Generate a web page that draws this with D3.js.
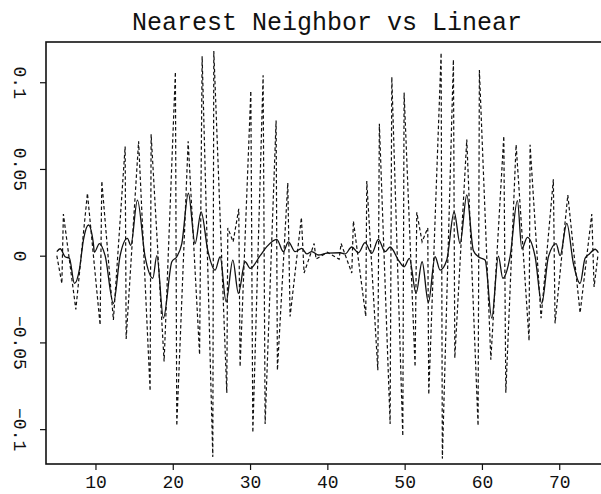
<!DOCTYPE html>
<html>
<head>
<meta charset="utf-8">
<script src="https://cdn.jsdelivr.net/npm/d3@7"></script>
<style>
  body { margin: 0; background: #fff; }
  text { font-family: "Liberation Mono", "DejaVu Sans Mono", monospace; fill: #111; }
</style>
</head>
<body>
<script>
// nearest neighbor (dashed) - turning points
let nnX = [5.00, 5.65, 5.85, 7.46, 8.96, 10.60, 10.82, 12.32, 13.84, 13.97, 15.58, 17.07, 17.20, 18.88, 20.34, 20.52,
           21.99, 23.47, 23.80, 25.18, 25.31, 26.99, 27.12, 27.81, 28.54, 28.71, 30.10, 30.36, 31.69, 31.95, 33.37, 33.54,
           34.88, 35.18, 36.64, 36.99, 38.29, 38.54, 40.00,
           41.52, 41.78, 43.16, 43.37, 44.97, 45.10, 46.53, 46.73, 48.12, 48.34, 49.76, 49.93, 51.35, 51.57, 52.26, 52.99,
           53.12, 54.72, 54.88, 56.31, 56.49, 58.04, 59.50, 59.67, 61.15, 62.83, 63.09, 64.42, 66.10, 66.23, 67.65, 69.24,
           69.46, 71.11, 72.70, 74.21, 74.51, 75.00]
let nnY = [0.000, -0.016, 0.024, -0.031, 0.036, -0.040, 0.043, -0.037, 0.063, -0.048, 0.066, -0.078, 0.070, -0.061, 0.106, -0.098,
           0.066, -0.057, 0.115, -0.116, 0.118, -0.079, 0.016, 0.008, 0.027, -0.064, 0.095, -0.102, 0.104, -0.097, 0.078, -0.066,
           0.042, -0.035, 0.022, -0.010, 0.007, -0.002, 0.002,
           -0.002, 0.007, -0.010, 0.020, -0.035, 0.043, -0.066, 0.076, -0.097, 0.103, -0.104, 0.094, -0.064, 0.025, 0.008, 0.016,
           -0.080, 0.117, -0.117, 0.113, -0.059, 0.067, -0.098, 0.107, -0.060, 0.069, -0.079, 0.064, -0.049, 0.064, -0.036, 0.044,
           -0.039, 0.035, -0.033, 0.024, -0.018, 0.000]

// linear (solid)
let linX = [5.00, 5.43, 6.07, 6.63, 7.28, 7.92, 8.44, 9.09, 9.73, 9.86, 10.51, 11.25, 12.32, 13.19, 14.13, 14.57, 15.43,
            16.42, 17.42, 17.94, 18.79, 19.88, 20.52, 21.17, 22.02, 22.89, 23.67, 24.53, 25.48, 26.13, 26.90, 27.77, 28.49,
            29.36, 30.01, 31.30, 32.17, 33.46, 34.31, 34.96, 35.83, 36.69, 37.34, 37.99, 38.84, 40.00,
            41.65, 42.29, 43.16, 44.02, 44.88, 45.75, 46.60, 47.47, 48.12, 49.19, 49.93, 50.61, 51.48, 52.26, 53.07, 53.94,
            54.59, 55.45, 56.40, 57.17, 58.04, 58.89, 59.54, 60.41, 61.27, 62.13, 62.70, 63.64, 64.59, 65.16, 65.88, 66.88,
            67.74, 68.60, 69.60, 70.11, 70.98, 71.83, 72.70, 73.34, 73.90, 74.64, 75.06]
let linY = [0.0023, 0.0040, -0.0006, -0.0015, -0.0160, -0.0080, 0.0090, 0.0177, 0.0070, 0.0020, 0.0070, 0.0000, -0.0275,
            0.0000, 0.0100, 0.0060, 0.0320, -0.0006, -0.0130, 0.0000, -0.0360, -0.0035, -0.0006, 0.0070, 0.0360, 0.0070,
            0.0253, 0.0030, -0.0083, -0.0006, -0.0266, -0.0025, -0.0217, -0.0035, -0.0073, 0.0000, 0.0052, 0.0094, 0.0023,
            0.0080, 0.0023, 0.0042, 0.0010, 0.0023, 0.0004, 0.0015,
            0.0017, 0.0010, 0.0050, 0.0017, 0.0075, 0.0013, 0.0094, 0.0023, 0.0050, -0.0025, -0.0064, -0.0015, -0.0217,
            -0.0035, -0.0270, -0.0006, -0.0083, -0.0025, 0.0253, 0.0070, 0.0350, 0.0030, -0.0006, -0.0025, -0.0360, -0.0002,
            -0.0130, -0.0006, 0.0317, 0.0040, 0.0106, -0.0006, -0.0275, -0.0006, 0.0070, 0.0000, 0.0186, -0.0045, -0.0160,
            -0.0015, 0.0010, 0.0037, 0.0017]

let xTicks = [10, 20, 30, 40, 50, 60, 70]
let yTicks = [-0.1, -0.05, 0, 0.05, 0.1]
let yTickLabels = ['\u22120.1', '\u22120.05', '0', '0.05', '0.1']
let title = 'Nearest Neighbor vs Linear'

function main(){

    let width = 601
    let height = 494

    let x = d3.scaleLinear()
                .domain([3.6, 76.4])
                .range([46, 608.7])     // right edge falls outside the picture
    let y = d3.scaleLinear()
                .domain([-0.1201, 0.1232])
                .range([464, 42])

    let svg = d3.select('body')
                .append('svg')
                .attr('width', width)
                .attr('height', height)

    svg.append('text')
        .attr('x', 327)
        .attr('y', 30)
        .attr('text-anchor', 'middle')
        .style('font-size', '25px')
        .style('font-weight', 300)
        .text(title)

    // lines
    let nnLine = d3.line()
                    .x(function(d){ return x(d[0]) })
                    .y(function(d){ return y(d[1]) })
    let linLine = d3.line()
                    .x(function(d){ return x(d[0]) })
                    .y(function(d){ return y(d[1]) })
                    .curve(d3.curveMonotoneX)

    svg.append('path')
        .datum(d3.zip(nnX, nnY))
        .attr('fill', 'none')
        .attr('stroke', '#111')
        .attr('stroke-width', 1.2)
        .attr('stroke-dasharray', '3.5,2.5')
        .attr('d', nnLine)

    svg.append('path')
        .datum(d3.zip(linX, linY))
        .attr('fill', 'none')
        .attr('stroke', '#111')
        .attr('stroke-width', 1.3)
        .attr('d', linLine)

    // frame
    svg.append('rect')
        .attr('x', x.range()[0])
        .attr('y', y.range()[1])
        .attr('width', x.range()[1] - x.range()[0])
        .attr('height', y.range()[0] - y.range()[1])
        .attr('fill', 'none')
        .attr('stroke', '#111')
        .attr('stroke-width', 1.6)

    // x axis
    let xAxis = d3.axisBottom(x)
                    .tickValues(xTicks)
                    .tickSize(6)
                    .tickFormat(d3.format('d'))
    let gx = svg.append('g')
                .attr('transform', 'translate(0,' + y.range()[0] + ')')
                .call(xAxis)
    gx.select('.domain').remove()
    gx.selectAll('line').attr('stroke', '#111').attr('stroke-width', 1.2)
    gx.selectAll('text')
        .attr('y', 11)
        .attr('dy', '0.71em')
        .style('font-size', '18px')

    // y axis, labels turned to read downwards
    let yAxis = d3.axisLeft(y)
                    .tickValues(yTicks)
                    .tickSize(6)
                    .tickFormat(function(d, i){ return yTickLabels[i] })
    let gy = svg.append('g')
                .attr('transform', 'translate(' + x.range()[0] + ',0)')
                .call(yAxis)
    gy.select('.domain').remove()
    gy.selectAll('line').attr('stroke', '#111').attr('stroke-width', 1.2)
    gy.selectAll('text')
        .attr('x', null)
        .attr('dy', null)
        .attr('text-anchor', 'middle')
        .attr('transform', 'translate(-32,0) rotate(90)')
        .style('font-size', '18px')
}

main()
</script>
</body>
</html>
